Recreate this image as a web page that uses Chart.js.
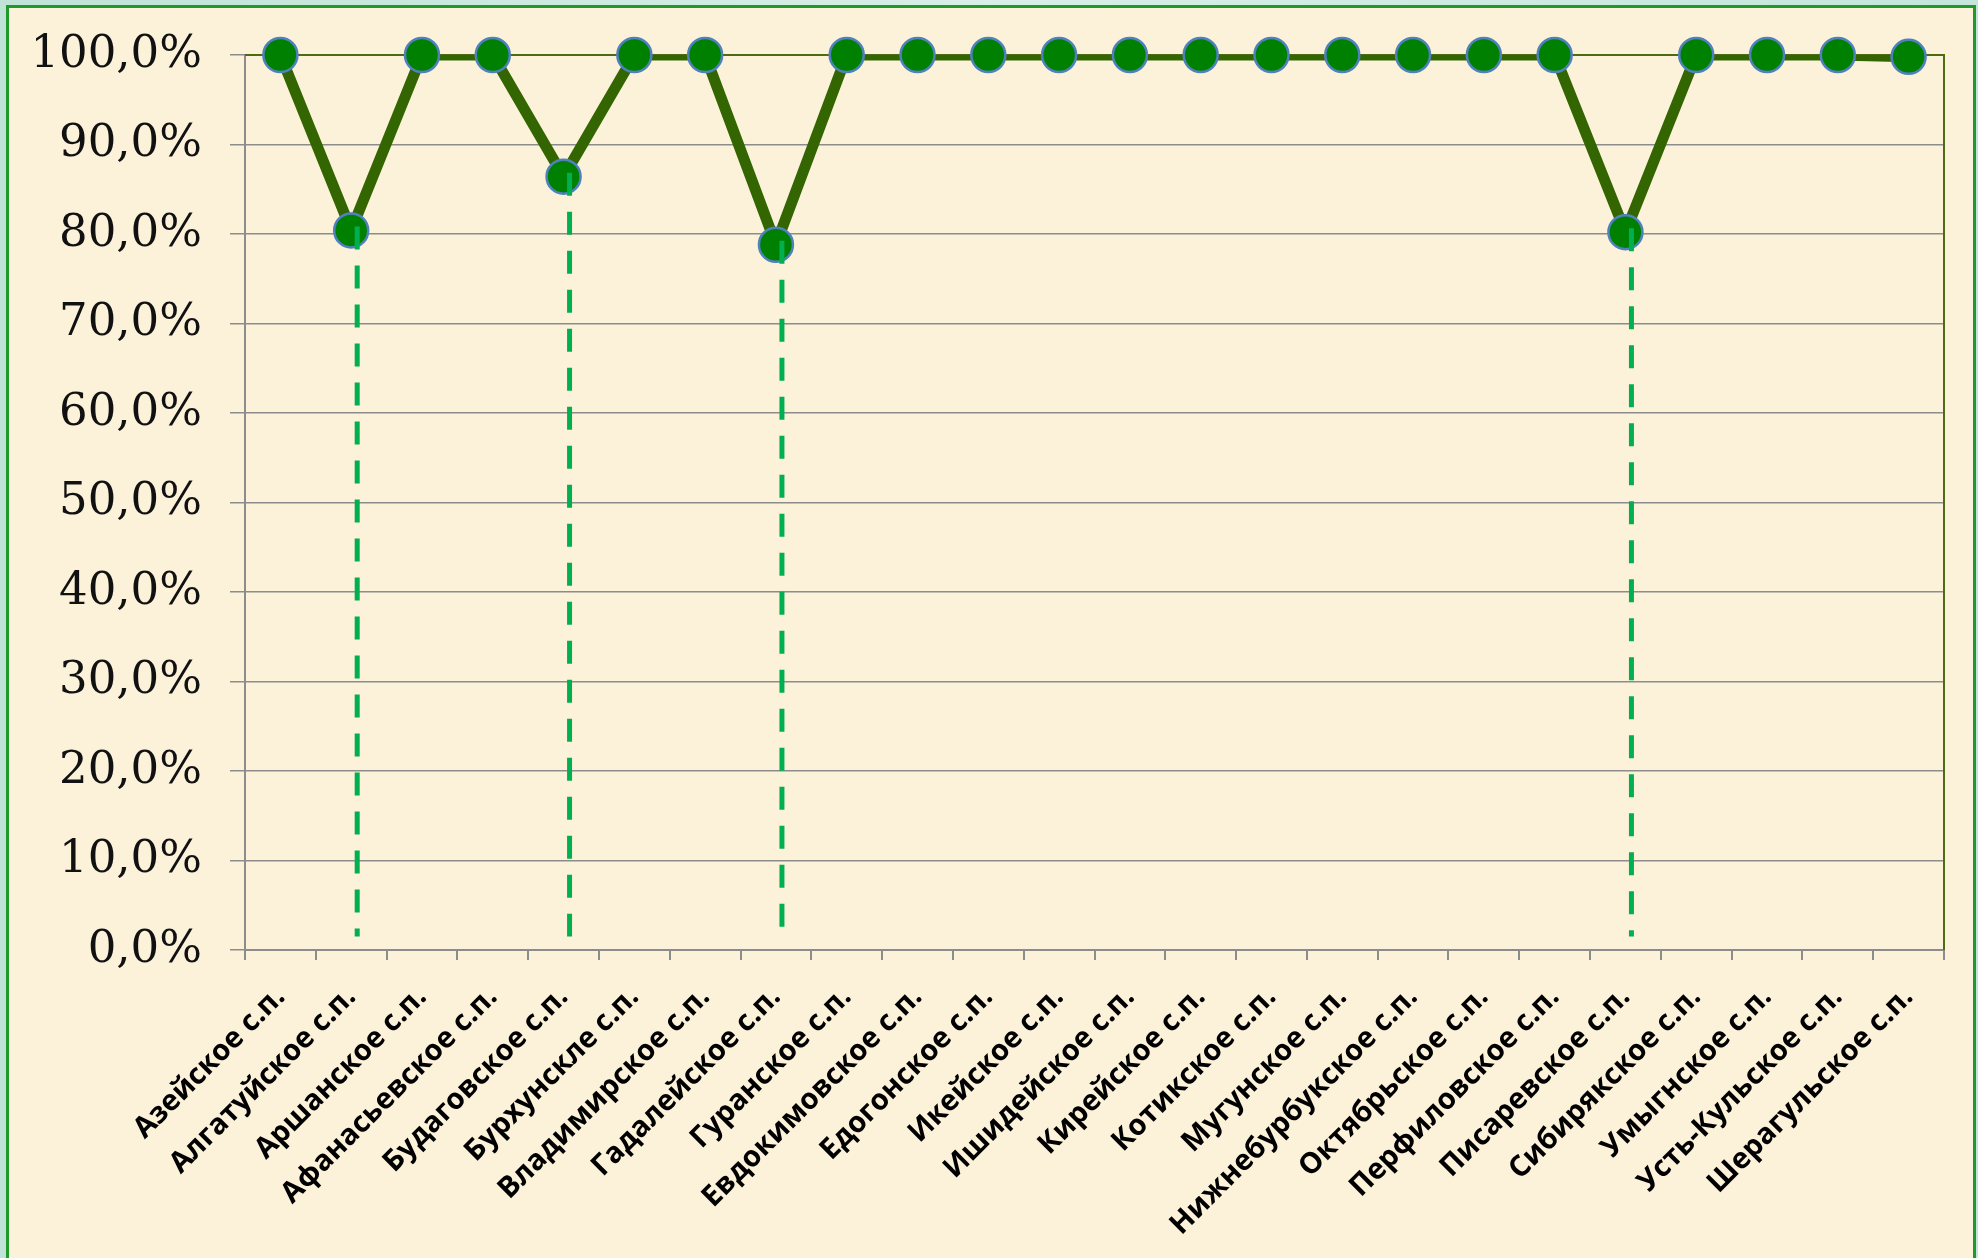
<!DOCTYPE html>
<html>
<head>
<meta charset="utf-8">
<script src="https://cdn.jsdelivr.net/npm/chart.js@4.4.1/dist/chart.umd.min.js"></script>
<style>
  html, body { margin: 0; padding: 0; width: 1978px; height: 1258px; overflow: hidden; }
  body { background: linear-gradient(90deg, #bfe3d6 0%, #d7efe6 50%, #c4e6da 100%); position: relative; }
  #frame { position: absolute; left: 6px; top: 5px; width: 1970px; height: 1260px; border: 3px solid #1f9a2a; border-bottom: none;
           background: #fcf2da; box-sizing: border-box; }
  #mainChart { position: absolute; left: 0; top: 0; }
</style>
</head>
<body>
<div id="frame"></div>
<canvas id="mainChart" width="1978" height="1258"></canvas>
<script>
const categories = [
  'Азейское с.п.', 'Алгатуйское с.п.', 'Аршанское с.п.', 'Афанасьевское с.п.', 'Будаговское с.п.',
  'Бурхунскле с.п.', 'Владимирское с.п.', 'Гадалейское с.п.', 'Гуранское с.п.', 'Евдокимовское с.п.',
  'Едогонское с.п.', 'Икейское с.п.', 'Ишидейское с.п.', 'Кирейское с.п.', 'Котикское с.п.',
  'Мугунское с.п.', 'Нижнебурбукское с.п.', 'Октябрьское с.п.', 'Перфиловское с.п.', 'Писаревское с.п.',
  'Сибирякское с.п.', 'Умыгнское с.п.', 'Усть-Кульское с.п.', 'Шерагульское с.п.'
];
const percentValues = [
  100, 80.4, 100, 100, 86.4,
  100, 100, 78.8, 100, 100,
  100, 100, 100, 100, 100,
  100, 100, 100, 100, 80.2,
  100, 100, 100, 99.8
];
const yTicksMin = 0, yTicksMax = 100, yStep = 10;
const dropFloor = 1.5;   // where the dashed drop lines stop

const dropLines = {
  id: 'dropLines',
  afterDatasetsDraw(chart) {
    const ctx = chart.ctx, y = chart.scales.y;
    const meta = chart.getDatasetMeta(1);
    ctx.save();
    ctx.strokeStyle = '#00b050';
    ctx.lineWidth = 5;
    ctx.setLineDash([23, 16]);
    percentValues.forEach((v, i) => {
      if (v >= 95) return;
      let p = meta.data[i];
      ctx.beginPath();
      ctx.moveTo(p.x + 6, p.y - 4);
      ctx.lineTo(p.x + 6, y.getPixelForValue(dropFloor));
      ctx.stroke();
    });
    ctx.restore();
  }
};

const areaBorder = {
  id: 'areaBorder',
  beforeDatasetsDraw(chart) {
    const { ctx, chartArea: a } = chart;
    ctx.save();
    ctx.strokeStyle = '#4d6b10';
    ctx.lineWidth = 2;
    ctx.beginPath();
    ctx.moveTo(a.left, a.top);
    ctx.lineTo(a.right, a.top);
    ctx.lineTo(a.right, a.bottom);
    ctx.stroke();
    ctx.restore();
  }
};

let chart = new Chart(document.getElementById('mainChart').getContext('2d'), {
  type: 'line',
  data: {
    labels: categories,
    datasets: [{
      // the line itself, clipped at the plot area like in the original
      data: percentValues,
      borderColor: '#336600',
      borderWidth: 11,
      tension: 0,
      fill: false,
      pointRadius: 0,
      clip: 0,
      order: 2
    }, {
      // markers, not clipped
      data: percentValues,
      showLine: false,
      pointRadius: 17,
      pointHoverRadius: 17,
      pointBackgroundColor: '#008000',
      pointBorderColor: '#4f81bd',
      pointBorderWidth: 2.5,
      clip: false,
      order: 1
    }]
  },
  options: {
    responsive: false,
    animation: false,
    devicePixelRatio: 1,
    layout: { padding: { top: 41, right: 34, left: 0, bottom: 0 } },
    plugins: { legend: { display: false }, tooltip: { enabled: false } },
    scales: {
      x: {
        offset: true,
        grid: { offset: true, drawOnChartArea: false, drawTicks: true, tickLength: 10, color: '#8c8c8c', lineWidth: 2 },
        border: { color: '#8c8c8c', width: 2 },
        ticks: {
          autoSkip: false, maxRotation: 45, minRotation: 45, padding: 20,
          color: '#000', font: { family: '"Open Sans", "Noto Sans", sans-serif', size: 29, weight: 'bold' }
        },
        afterFit: (axis) => { axis.height = 308; }
      },
      y: {
        min: yTicksMin, max: yTicksMax,
        grid: { color: '#8c8c8c', lineWidth: 1.5, tickLength: 15 },
        border: { color: '#8c8c8c', width: 2 },
        ticks: {
          stepSize: yStep, padding: 28, color: '#111',
          font: { family: '"DejaVu Serif", serif', size: 45 },
          callback: v => v.toFixed(1).replace('.', ',') + '%'
        },
        afterFit: (axis) => { axis.width = 245; }
      }
    }
  },
  plugins: [areaBorder, dropLines]
});
</script>
</body>
</html>
